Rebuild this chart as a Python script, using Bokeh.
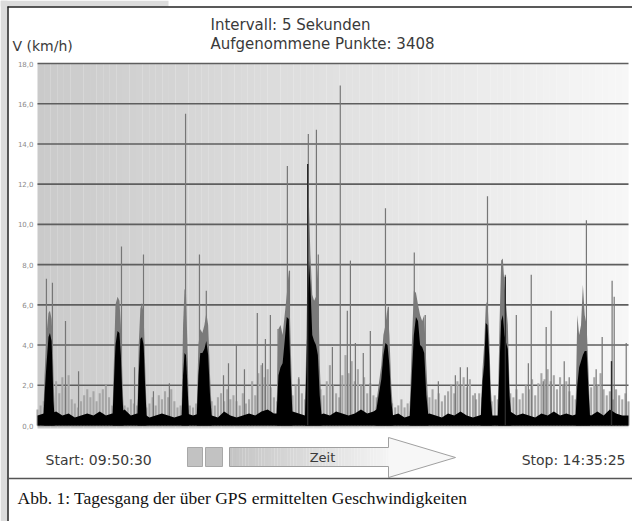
import numpy as np
from bokeh.plotting import figure
from bokeh.models import Range1d, Label
from bokeh.embed import file_html
from bokeh.resources import INLINE
from bokeh.core.properties import value

# ---------------- data ----------------
INTERVAL_S = 5
N_POINTS = 3408
T_START = "09:50:30"
T_STOP = "14:35:25"
T_MAX = 285.0            # minutes between start and stop

Y_TICKS = [0, 2, 4, 6, 8, 10, 12, 14, 16, 18]
Y_TICK_LABELS = ["0,0", "2,0", "4,0", "6,0", "8,0", "10,0", "12,0", "14,0", "16,0", "18,0"]

# isolated spikes (minute, km/h)
spike_t = [4.3, 7.2, 13.5, 19.8, 40.5, 46.8, 51.1, 55.9, 63.6, 71.4, 78.1, 81.4,
           89.7, 92.1, 95.9, 99.8, 106.0, 108.5, 109.9, 112.3, 116.0, 120.5, 121.5,
           126.0, 130.6, 134.5, 135.4, 142.2, 146.0, 149.4, 150.9, 153.3, 157.1,
           160.5, 167.8, 169.2, 181.7, 187.0, 193.3, 201.5, 203.9, 207.3, 211.0,
           217.0, 225.6, 230.9, 236.7, 238.1, 243.9, 245.3, 247.7, 254.0, 256.4,
           264.7, 269.4, 272.3, 277.1, 278.1, 283.9]
spike_v = [7.3, 7.1, 5.2, 2.7, 8.9, 2.9, 8.5, 1.7, 2.1, 15.5, 8.5, 6.7,
           2.5, 3.1, 4.0, 2.8, 5.6, 3.1, 4.3, 5.5, 4.8, 12.9, 7.7,
           2.4, 14.5, 14.7, 8.5, 3.9, 16.9, 5.7, 8.2, 4.1, 3.6,
           4.7, 10.8, 5.9, 8.6, 5.5, 2.2, 2.5, 2.9, 2.9, 1.6,
           11.4, 7.5, 5.5, 3.1, 7.5, 2.2, 4.9, 5.7, 3.2, 2.4,
           10.2, 2.8, 4.4, 7.2, 6.4, 4.1]

# darker inner spikes (minute, km/h)
dark_t = [130.3, 225.6, 276.8]
dark_v = [13.0, 7.4, 3.2]

# dense driving bursts: time (min), black core (km/h), grey envelope (km/h)
burst_t = [
    [2.9, 3.4, 4.3, 5.3, 6.0, 6.8, 7.2, 7.7, 8.2],
    [36.2, 36.8, 37.6, 38.6, 39.5, 40.2, 40.9, 41.5],
    [48.2, 48.8, 49.6, 50.4, 51.2, 51.9, 52.6],
    [69.5, 70.2, 70.9, 71.6, 72.3, 73.0],
    [76.8, 77.6, 78.5, 79.5, 80.5, 81.4, 82.3, 83.2, 84.0],
    [115.3, 116.2, 117.2, 118.2, 119.2, 120.2, 121.2, 122.1, 123.0],
    [129.0, 129.7, 130.3, 130.9, 131.6, 132.5, 133.4, 134.3, 135.2, 136.1, 137.0],
    [163.0, 164.5, 165.8, 166.8, 167.8, 168.8, 169.7, 170.6, 171.4],
    [179.5, 180.5, 181.5, 182.5, 183.5, 184.5, 185.5, 186.5, 187.5, 188.5],
    [213.8, 214.6, 215.4, 216.2, 217.0, 217.8, 218.6, 219.3],
    [222.0, 222.8, 223.6, 224.4, 225.2, 226.0, 226.8, 227.6, 228.4],
    [259.5, 260.3, 261.2, 262.1, 263.0, 263.9, 264.8, 265.6, 266.4],
]
burst_black = [
    [0.5, 1.5, 3.0, 4.4, 4.6, 4.2, 3.0, 1.2, 0.5],
    [0.5, 2.0, 4.0, 4.7, 4.6, 3.5, 1.5, 0.5],
    [0.5, 2.5, 4.3, 4.4, 4.0, 2.0, 0.5],
    [0.5, 2.5, 3.6, 3.5, 2.0, 0.5],
    [0.5, 2.5, 3.6, 3.6, 3.8, 4.2, 3.5, 1.5, 0.5],
    [0.5, 2.5, 2.9, 3.1, 4.2, 5.4, 5.3, 2.5, 0.5],
    [0.5, 3.0, 6.0, 8.2, 7.0, 4.5, 4.2, 4.0, 3.5, 1.5, 0.5],
    [0.5, 1.5, 2.3, 3.5, 4.1, 4.0, 3.0, 1.2, 0.5],
    [0.5, 2.5, 4.5, 5.4, 5.2, 4.0, 3.9, 3.6, 1.5, 0.5],
    [0.5, 2.2, 3.0, 5.1, 5.0, 3.5, 1.2, 0.5],
    [0.5, 3.0, 5.2, 5.5, 4.5, 4.1, 3.8, 1.5, 0.5],
    [0.5, 2.0, 2.9, 3.2, 3.5, 3.7, 3.7, 2.0, 0.5],
]
burst_gray = [
    [0.8, 2.5, 4.5, 5.6, 5.7, 5.3, 4.5, 2.5, 1.0],
    [0.8, 3.0, 6.0, 6.4, 6.2, 5.0, 2.5, 0.8],
    [0.8, 4.0, 5.8, 6.1, 5.5, 3.0, 0.8],
    [0.8, 5.0, 6.8, 6.6, 4.0, 0.8],
    [0.8, 4.0, 4.8, 4.6, 5.0, 5.6, 5.0, 2.5, 0.8],
    [0.8, 4.8, 5.0, 4.5, 5.5, 6.5, 7.7, 4.0, 0.8],
    [0.8, 4.5, 9.0, 11.0, 8.5, 6.5, 6.2, 6.4, 8.0, 3.0, 0.8],
    [0.8, 2.0, 3.0, 4.5, 5.0, 5.9, 4.5, 2.0, 0.8],
    [0.8, 4.0, 6.7, 6.6, 6.0, 5.5, 5.2, 5.5, 3.0, 0.8],
    [0.8, 2.8, 4.0, 6.0, 6.2, 4.5, 1.8, 0.8],
    [0.8, 5.0, 8.2, 8.3, 7.0, 6.0, 5.0, 2.0, 0.8],
    [0.8, 5.5, 4.5, 5.0, 7.0, 5.5, 5.0, 3.0, 0.8],
]

# low-speed clutter, one value every 1.5 min (km/h)
NOISE_STEP = 1.5
noise_gray = [
    0.8, 1.0, 1.2, 1.5, 1.5, 1.4, 2.2, 1.6, 2.4, 1.9, 2.5, 1.3, 1.1, 0.9, 1.2, 1.5,
    1.8, 1.4, 1.7, 1.2, 1.6, 1.8, 2.0, 1.4, 1.0, 1.3, 1.5, 1.2, 1.0, 0.9, 1.3, 1.1,
    1.0, 1.2, 1.0, 0.9, 1.1, 1.4, 1.0, 1.5, 1.3, 1.7, 1.4, 1.8, 1.2, 0.9, 1.0, 1.0,
    1.2, 1.0, 0.9, 1.1, 1.3, 1.2, 1.3, 1.5, 1.2, 1.0, 1.4, 1.6, 1.2, 1.8, 1.3, 1.5,
    1.2, 1.0, 1.6, 1.1, 1.3, 2.2, 1.5, 2.6, 3.0, 2.4, 2.8, 1.9, 1.4, 1.2, 1.8, 1.6,
    1.4, 1.2, 1.5, 2.0, 2.3, 1.6, 1.3, 1.5, 1.4, 1.3, 1.6, 1.8, 1.5, 2.2, 3.0, 2.0,
    1.6, 1.4, 2.5, 3.5, 2.6, 3.2, 2.2, 2.8, 2.0, 2.4, 1.6, 2.1, 1.5, 1.4, 1.3, 1.5,
    1.4, 1.5, 1.1, 0.9, 1.0, 1.3, 0.9, 1.1, 1.2, 1.4, 1.2, 1.3, 1.4, 1.5, 1.4, 1.8,
    1.3, 1.6, 1.2, 1.5, 1.7, 2.0, 1.6, 2.2, 2.0, 2.4, 1.9, 2.3, 1.5, 1.3, 1.6, 1.4,
    1.2, 1.3, 1.2, 1.5, 1.3, 1.4, 1.3, 1.5, 1.6, 1.4, 1.8, 1.3, 1.6, 2.0, 1.8, 2.3,
    1.5, 2.1, 2.6, 2.3, 2.8, 2.2, 2.5, 1.8, 2.4, 2.0, 2.2, 1.7, 1.5, 1.3, 1.5, 1.4,
    1.6, 1.5, 1.9, 2.4, 2.0, 2.6, 1.8, 1.5, 1.7, 1.3, 1.8, 1.5, 1.3, 1.6, 1.2,
]
# black low-speed floor, one value every 3 min (km/h)
FLOOR_STEP = 3.0
noise_black = [
    0.5, 0.6, 0.6, 0.7, 0.5, 0.6, 0.4, 0.5, 0.6, 0.5, 0.7, 0.5, 0.6, 0.6, 0.8, 0.5,
    0.6, 0.6, 0.4, 0.5, 0.6, 0.5, 0.4, 0.5, 0.6, 0.5, 0.6, 0.6, 0.5, 0.4, 0.7, 0.5,
    0.4, 0.5, 0.6, 0.5, 0.7, 0.8, 0.6, 0.6, 0.6, 0.7, 0.6, 0.5, 0.6, 0.5, 0.6, 0.5,
    0.7, 0.6, 0.5, 0.6, 0.8, 0.6, 0.7, 0.9, 0.6, 0.5, 0.6, 0.4, 0.5, 0.6, 0.5, 0.6,
    0.5, 0.4, 0.6, 0.5, 0.7, 0.5, 0.4, 0.5, 0.6, 0.5, 0.5, 0.6, 0.7, 0.5, 0.6, 0.5,
    0.4, 0.6, 0.5, 0.7, 0.5, 0.6, 0.5, 0.6, 0.6, 0.5, 0.7, 0.5, 0.8, 0.6, 0.5, 0.5,
]

# ---------------- layout helpers (page pixel -> data) ----------------
W, H = 632, 521
CH_X0, CH_X1 = 37, 628      # chart area, pixels
CH_Y0, CH_Y18 = 425, 63
PXY = (CH_Y0 - CH_Y18) / 18.0


def X(px):
    return (px - CH_X0) / (CH_X1 - CH_X0) * T_MAX


def Y(py):
    return (CH_Y0 - py) / PXY


p = figure(width=W, height=H, x_range=Range1d(X(0), X(W)), y_range=Range1d(Y(H), Y(0)),
           x_axis_location=None, y_axis_location=None, toolbar_location=None,
           output_backend="svg", min_border=0, outline_line_color=None,
           background_fill_color="white", border_fill_color="white")
p.xgrid.visible = False
p.ygrid.visible = False

# page decoration (scan margins)
p.quad(left=[X(0), X(0)], right=[X(7), X(168)], top=[Y(0), Y(0)], bottom=[Y(H), Y(6)],
       fill_color="#dcdcdc", line_color=None)

# gradient background of chart area
n = 90
edges = np.linspace(0, T_MAX, n + 1)
lv = np.linspace(0xca, 0xf7, n).round().astype(int)
cols = ["#%02x%02x%02x" % (v, v, v) for v in lv]
p.quad(left=edges[:-1], right=edges[1:] + 0.05, bottom=Y(428), top=18,
       fill_color=cols, line_color=None)

# horizontal grid at the y ticks
p.segment(x0=0, x1=T_MAX, y0=Y_TICKS, y1=Y_TICKS, line_color="#5e5e5e", line_width=1.6)
p.text(x=X(33), y=Y_TICKS, text=Y_TICK_LABELS, text_align="right", text_baseline="middle",
       text_font=value("DejaVu Sans"), text_font_size="7px", text_color="#8a8a8a")

# low speed grey clutter
noise_t = [i * NOISE_STEP for i in range(len(noise_gray))]
p.vbar(x=noise_t, top=noise_gray, bottom=0, width=1.0, fill_color="#a6a6a6", line_color=None)

# isolated spikes
p.segment(x0=spike_t, y0=0, x1=spike_t, y1=spike_v, line_color="#767676", line_width=1.2)

# burst envelopes and cores
gxs = [t + t[::-1] for t in burst_t]
gys = [g + [0] * len(g) for g in burst_gray]
p.patches(xs=gxs, ys=gys, fill_color="#7a7a7a", line_color=None)

floor_t = [i * FLOOR_STEP for i in range(len(noise_black))]
p.varea(x=floor_t, y1=0, y2=noise_black, fill_color="black")

bxs = [t + t[::-1] for t in burst_t]
bys = [b + [0] * len(b) for b in burst_black]
p.patches(xs=bxs, ys=bys, fill_color="black", line_color=None)

p.segment(x0=dark_t, y0=0, x1=dark_t, y1=dark_v, line_color="#2a2a2a", line_width=1.4)

# ---------------- time arrow below the chart ----------------
p.quad(left=[X(187), X(205)], right=[X(202), X(222)], top=Y(447), bottom=Y(466),
       fill_color="#c2c2c2", line_color="#a8a8a8", line_width=1)
nb = 50
be = np.linspace(X(229), X(389), nb + 1)
bl = np.linspace(0xc4, 0xf4, nb).round().astype(int)
p.quad(left=be[:-1], right=be[1:] + 0.05, top=Y(447), bottom=Y(466),
       fill_color=["#%02x%02x%02x" % (v, v, v) for v in bl], line_color=None)
head_x = [X(388), X(388), X(455), X(388), X(388)]
head_y = [Y(447), Y(437), Y(457), Y(477), Y(466)]
p.patch(head_x, head_y, fill_color="#f7f7f7", line_color=None)
out_x = [X(229), X(388), X(388), X(455), X(388), X(388), X(229), X(229)]
out_y = [Y(447), Y(447), Y(437), Y(457), Y(477), Y(466), Y(466), Y(447)]
p.line(out_x, out_y, line_color="#a0a0a0", line_width=1)

# frame lines of the figure box
p.segment(x0=[X(7), X(7.5), X(7)], x1=[X(W), X(7.5), X(W)],
          y0=[Y(6.5), Y(6), Y(478)], y1=[Y(6.5), Y(H), Y(478)],
          line_color=["#222222", "#222222", "#555555"], line_width=1.5)


def lab(px, py, text, size, font="DejaVu Sans", color="#3a3a3a", align="left"):
    p.add_layout(Label(x=X(px), y=Y(py), text=text, text_font=font, text_font_size=size,
                       text_color=color, text_align=align, text_baseline="middle"))


lab(322, 457, "Zeit", "13px", align="center")
lab(45, 459, "Start: " + T_START, "14px")
lab(625, 459, "Stop: " + T_STOP, "14px", align="right")
lab(210, 24, "Intervall: %d Sekunden" % INTERVAL_S, "15px")
lab(210, 43, "Aufgenommene Punkte: %d" % N_POINTS, "15px")
lab(12, 45, "V (km/h)", "14px")
lab(17, 497, "Abb. 1: Tagesgang der über GPS ermittelten Geschwindigkeiten", "17.5px",
    font="Liberation Serif", color="#111111")

open("out.html", "w").write(file_html(p, INLINE))
